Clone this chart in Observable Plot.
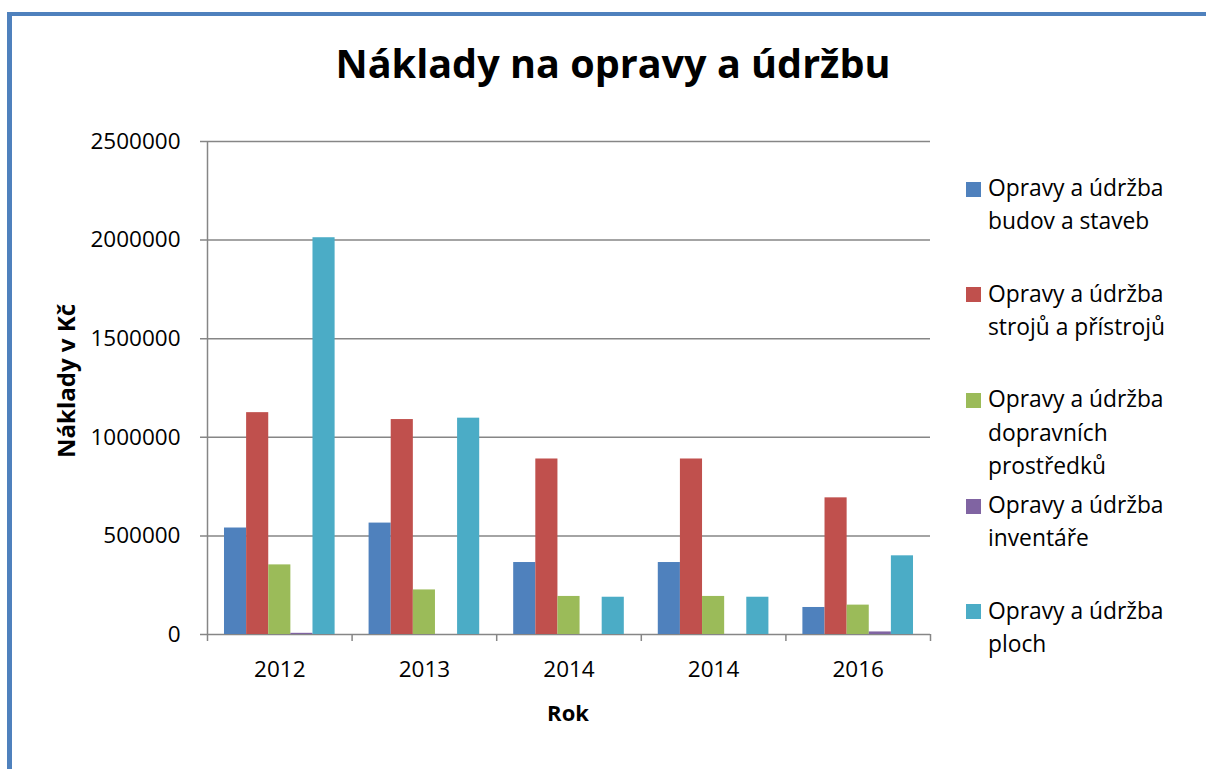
<!DOCTYPE html>
<html>
<head>
<meta charset="utf-8">
<script src="https://cdn.jsdelivr.net/npm/d3@7"></script>
<script src="https://cdn.jsdelivr.net/npm/@observablehq/plot@0.6"></script>
<style>
  html, body { margin: 0; padding: 0; background: #fff; }
  #page { position: relative; width: 1206px; height: 769px; overflow: hidden; font-family: 'Open Sans', sans-serif; color: #000; }
  #chart { position: absolute; left: 0; top: 0; }
  #frame { position: absolute; left: 7px; top: 12px; width: 1300px; height: 900px; border-left: 5px solid #4F81BD; border-top: 4px solid #4F81BD; pointer-events: none; }
  #title { position: absolute; left: 0; width: 1226px; top: 35px; text-align: center; font-weight: 700; font-size: 39.6px; line-height: 56px; }
  #ylab { position: absolute; left: 65px; top: 381px; transform: translate(-50%, -50%) rotate(-90deg); font-weight: 700; font-size: 24px; white-space: nowrap; }
  #xlab { position: absolute; left: 568px; top: 712px; transform: translate(-50%, -50%); font-weight: 700; font-size: 22px; }
  #legend { position: absolute; left: 966px; top: 171px; }
  .item { position: relative; height: 105.7px; }
  .sw { position: absolute; left: 0; top: 10.5px; width: 15px; height: 15px; }
  .lt { position: absolute; left: 22px; top: 0; font-size: 22.8px; line-height: 33.3px; white-space: nowrap; }
</style>
</head>
<body>
<div id="page">
  <div id="chart"></div>
  <div id="title">Náklady na opravy a údržbu</div>
  <div id="ylab">Náklady v Kč</div>
  <div id="xlab">Rok</div>
  <div id="legend"></div>
  <div id="frame"></div>
</div>
<script>
// ---- data ----
const years = ["2012", "2013", "2014", "2014", "2016"];
const seriesNames = [
  "Opravy a údržba budov a staveb",
  "Opravy a údržba strojů a přístrojů",
  "Opravy a údržba dopravních prostředků",
  "Opravy a údržba inventáře",
  "Opravy a údržba ploch"
];
const legendLines = [
  ["Opravy a údržba", "budov a staveb"],
  ["Opravy a údržba", "strojů a přístrojů"],
  ["Opravy a údržba", "dopravních", "prostředků"],
  ["Opravy a údržba", "inventáře"],
  ["Opravy a údržba", "ploch"]
];
const budovy   = [540000, 565000, 365000, 365000, 137000];
const stroje   = [1125000, 1090000, 890000, 890000, 693000];
const doprava  = [353000, 226000, 193000, 193000, 149000];
const inventar = [6000, 0, 0, 0, 13000];
const plochy   = [2012000, 1097000, 189000, 189000, 399000];
const yTicks = [0, 500000, 1000000, 1500000, 2000000, 2500000];
const colors = ["#4F81BD", "#C0504D", "#9BBB59", "#8064A2", "#4BACC6"];

const seriesValues = [budovy, stroje, doprava, inventar, plochy];
const cats = years.map((_, i) => i);
const rows = [];
seriesValues.forEach((vals, s) => vals.forEach((v, i) => rows.push({cat: i, series: seriesNames[s], s, value: v})));

// ---- layout ----
const W = 1206, H = 769;
const mL = 207, mR = 276, mT = 141, mB = 135;
const pad = 0.235;
const plotW = W - mL - mR;
const step = plotW / (cats.length - pad + pad);
const bw = step * (1 - pad);
const barW = bw / seriesNames.length;
const grey = "#868686";

const barMarks = seriesNames.map((name, k) =>
  Plot.barY(rows.filter(r => r.s === k), {
    x: "cat", y: "value", fill: "series",
    insetLeft: k * barW, insetRight: (seriesNames.length - 1 - k) * barW
  })
);

const chart = Plot.plot({
  width: W, height: H,
  marginLeft: mL, marginRight: mR, marginTop: mT, marginBottom: mB,
  style: {fontFamily: "'Open Sans', sans-serif", fontSize: "22.5px", color: "#000", background: "transparent"},
  x: {type: "band", domain: cats, paddingInner: pad, paddingOuter: pad / 2, round: false,
      tickSize: 0, tickPadding: 27, tickFormat: i => years[i], label: null},
  y: {domain: [0, 2500000], ticks: yTicks, tickSize: 0, tickPadding: 27, tickFormat: d3.format("d"), label: null},
  color: {domain: seriesNames, range: colors},
  marks: [
    Plot.ruleY(yTicks, {stroke: grey, strokeWidth: 1.5, insetLeft: -7}),
    ...barMarks,
    Plot.ruleX([0], {x: d => d, y1: 0, y2: 2500000, dx: -step / 2, stroke: grey, strokeWidth: 1.5}),
    Plot.ruleX(cats, {x: d => d, y1: 0, y2: 0, insetBottom: -7, dx: -step / 2, stroke: grey, strokeWidth: 1.5}),
    Plot.ruleX([cats[cats.length - 1]], {x: d => d, y1: 0, y2: 0, insetBottom: -7, dx: step / 2, stroke: grey, strokeWidth: 1.5})
  ]
});
document.getElementById("chart").appendChild(chart);

// ---- legend ----
const legend = document.getElementById("legend");
legendLines.forEach((lines, k) => {
  const item = document.createElement("div");
  item.className = "item";
  const sw = document.createElement("div");
  sw.className = "sw";
  sw.style.background = colors[k];
  const lt = document.createElement("div");
  lt.className = "lt";
  lt.innerHTML = lines.join("<br>");
  item.appendChild(sw);
  item.appendChild(lt);
  legend.appendChild(item);
});
</script>
</body>
</html>
